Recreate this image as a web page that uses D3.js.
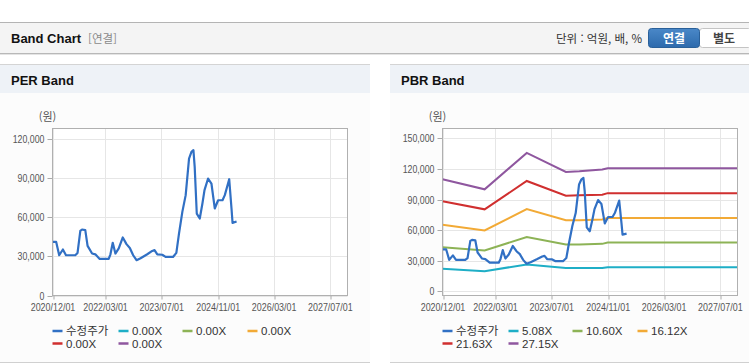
<!DOCTYPE html>
<html lang="ko">
<head>
    <meta charset="UTF-8">
    <title>Band Chart</title>
    <script src="https://d3js.org/d3.v7.min.js"></script>
    <style>
        body, html { margin: 0; background-color: #ffffff; }
        svg { display: block; }
        .axis-label { font-family: 'Liberation Sans', Arial, sans-serif; font-size: 11px; fill: #555; }
        .legend-text { font-family: 'Liberation Sans', 'Noto Sans CJK KR', sans-serif; font-size: 11.5px; fill: #333; }
        .title { font-family: 'Liberation Sans', 'Noto Sans CJK KR', sans-serif; font-weight: bold; font-size: 13px; fill: #111; }
    </style>
</head>
<body>
    <svg width="749" height="364"></svg>
    <script>
        const parse = d3.timeParse("%Y-%m-%d");

        // 수정주가 (adjusted price)
        const priceDates = ["2020-12-01","2021-01-02","2021-01-28","2021-03-01","2021-03-28","2021-06-16","2021-07-06",
            "2021-07-30","2021-08-14","2021-09-11","2021-10-01","2021-11-09","2021-12-07","2022-01-14","2022-04-02",
            "2022-04-17","2022-05-07","2022-05-30","2022-06-28","2022-08-02","2022-09-03","2022-10-02","2022-10-31",
            "2022-11-29","2023-01-03","2023-03-02","2023-04-14","2023-05-04","2023-05-28","2023-07-10","2023-08-08",
            "2023-10-11","2023-11-09","2023-12-02","2023-12-31","2024-01-29","2024-02-27","2024-03-19","2024-04-05",
            "2024-04-16","2024-05-04","2024-05-30","2024-06-22","2024-07-10","2024-08-10","2024-09-08","2024-10-07",
            "2024-11-05","2024-12-13","2025-01-02","2025-02-09","2025-03-01","2025-03-10","2025-04-14"];
        const priceValues = [41000,41000,30800,35200,30800,30800,32600,
            49400,50500,50000,38000,32100,31500,28000,28000,
            31500,40300,32100,36000,44400,39300,36400,30800,
            27000,28500,31600,34100,34700,31400,31200,29500,
            29500,32600,47400,64000,76800,104800,109900,111200,
            98400,62700,58900,70400,80600,89500,85700,66600,
            72900,72900,76800,89000,66600,55600,56600];

        // PBR band lines
        const bandDates = ["2020-12-01","2021-12-01","2022-12-01","2023-11-05","2024-03-01","2024-09-15","2024-11-01","2027-12-01"];
        const pbr508  = [22000, 19700, 26300, 22700, 22700, 22800, 23600, 23600];
        const pbr1060 = [43300, 40100, 53200, 46000, 46000, 46500, 47900, 47900];
        const pbr1612 = [65300, 59700, 80700, 69800, 69600, 70400, 71900, 71900];
        const pbr2163 = [88300, 80400, 108300, 93700, 94200, 94800, 96300, 96300];
        const pbr2715 = [110000, 100100, 135800, 117100, 117800, 119500, 120700, 120700];

        const perLegend = ["수정주가", "0.00X", "0.00X", "0.00X", "0.00X", "0.00X"];
        const pbrLegend = ["수정주가", "5.08X", "10.60X", "16.12X", "21.63X", "27.15X"];
        const seriesColors = ["#3170c4", "#1eaec6", "#8db356", "#f2aa36", "#d02f2f", "#8f579f"];

        const xTicks = ["2020-12-01","2022-03-01","2023-07-01","2024-11-01","2026-03-01","2027-07-01"];
        const xDomain = ["2020-12-01", "2027-12-01"];
        const perTicks = [0, 30000, 60000, 90000, 120000];
        const pbrTicks = [0, 30000, 60000, 90000, 120000, 150000];

        const svg = d3.select("svg");
        const fmtDate = d3.timeFormat("%Y/%m/%d");
        const fmtNum = d3.format(",");

        // squeeze axis labels to mimic the narrow font of the original
        function narrow(sel, k) {
            sel.each(function () {
                const len = this.getComputedTextLength();
                d3.select(this).attr("textLength", len * k).attr("lengthAdjust", "spacingAndGlyphs");
            });
        }

        // top header bar
        svg.append("rect").attr("x", 0).attr("y", 22).attr("width", 749).attr("height", 31).attr("fill", "#f4f4f4");
        svg.append("line").attr("x1", 0).attr("x2", 749).attr("y1", 22.5).attr("y2", 22.5).attr("stroke", "#b4b4b4");
        svg.append("line").attr("x1", 0).attr("x2", 749).attr("y1", 53.5).attr("y2", 53.5).attr("stroke", "#b8b8b8");
        svg.append("line").attr("x1", 0).attr("x2", 749).attr("y1", 54.5).attr("y2", 54.5).attr("stroke", "#e4e4e4");
        svg.append("text").attr("class", "title").attr("x", 11).attr("y", 43).text("Band Chart");
        svg.append("text").attr("x", 88).attr("y", 43)
            .style("font-family", "'Noto Sans CJK KR', sans-serif").style("font-size", "11.5px").attr("fill", "#8a8a8a")
            .text("[연결]");
        svg.append("text").attr("x", 642).attr("y", 43).attr("text-anchor", "end")
            .style("font-family", "'Noto Sans CJK KR', sans-serif").style("font-size", "11.5px").attr("fill", "#333")
            .text("단위 : 억원, 배, %");

        const grad = svg.append("defs").append("linearGradient").attr("id", "btn").attr("x1", 0).attr("x2", 0).attr("y1", 0).attr("y2", 1);
        grad.append("stop").attr("offset", "0%").attr("stop-color", "#4a88c8");
        grad.append("stop").attr("offset", "100%").attr("stop-color", "#2d6aac");
        svg.append("rect").attr("x", 699.5).attr("y", 28.5).attr("width", 52).attr("height", 19).attr("rx", 3)
            .attr("fill", "#fff").attr("stroke", "#c4c4c4");
        svg.append("rect").attr("x", 648.5).attr("y", 28.5).attr("width", 51).attr("height", 19).attr("rx", 3)
            .attr("fill", "url(#btn)").attr("stroke", "#2a6099");
        svg.append("text").attr("x", 674).attr("y", 42.5).attr("text-anchor", "middle")
            .style("font-family", "'Noto Sans CJK KR', sans-serif").style("font-size", "12px").style("font-weight", "bold")
            .attr("fill", "#fff").text("연결");
        svg.append("text").attr("x", 724).attr("y", 42.5).attr("text-anchor", "middle")
            .style("font-family", "'Noto Sans CJK KR', sans-serif").style("font-size", "12px").style("font-weight", "bold")
            .attr("fill", "#444").text("별도");

        function drawPanel(cfg) {
            const g = svg.append("g");
            // panel background + header
            g.append("rect").attr("x", cfg.px).attr("y", 64).attr("width", cfg.pw).attr("height", 299).attr("fill", "#fcfcfc");
            g.append("rect").attr("x", cfg.px).attr("y", 64).attr("width", cfg.pw).attr("height", 29).attr("fill", "#eef2f7");
            g.append("line").attr("x1", cfg.px).attr("x2", cfg.px + cfg.pw).attr("y1", 64.5).attr("y2", 64.5).attr("stroke", "#d4d4d4");
            g.append("line").attr("x1", cfg.px).attr("x2", cfg.px + cfg.pw).attr("y1", 362.5).attr("y2", 362.5).attr("stroke", "#d0d0d0");
            g.append("text").attr("class", "title").attr("x", cfg.px + 11).attr("y", 84.5).text(cfg.title);

            const x = d3.scaleTime().domain(xDomain.map(parse)).range([cfg.left, cfg.left + 295]);
            const y = d3.scaleLinear().domain(cfg.yDomain).range([295.5, 128.5]);

            g.append("rect").attr("x", cfg.left).attr("y", 128.5).attr("width", 295).attr("height", 167).attr("fill", "#fff");

            // grid
            g.selectAll(".hgrid").data(cfg.yTicks).enter().append("line")
                .attr("x1", cfg.left).attr("x2", cfg.left + 295)
                .attr("y1", d => Math.round(y(d)) + 0.5).attr("y2", d => Math.round(y(d)) + 0.5)
                .attr("stroke", "#e6e6e6");
            g.selectAll(".vgrid").data(xTicks).enter().append("line")
                .attr("x1", d => Math.round(x(parse(d))) + 0.5).attr("x2", d => Math.round(x(parse(d))) + 0.5)
                .attr("y1", 128.5).attr("y2", 295.5)
                .attr("stroke", "#e6e6e6");

            // axes
            g.append("g").attr("transform", `translate(0,295.5)`)
                .call(d3.axisBottom(x).tickValues(xTicks.map(parse)).tickFormat(fmtDate).tickSize(4).tickPadding(4))
                .call(a => a.select(".domain").remove())
                .call(a => a.selectAll("line").attr("stroke", "#aaa").attr("transform", d => `translate(${Math.round(x(d)) + 0.5 - x(d)},0)`))
                .call(a => a.selectAll("text").attr("class", "axis-label").attr("fill", null).call(narrow, 0.81));
            g.append("g").attr("transform", `translate(${cfg.left},0)`)
                .call(d3.axisLeft(y).tickValues(cfg.yTicks).tickFormat(fmtNum).tickSize(5).tickPadding(3))
                .call(a => a.select(".domain").remove())
                .call(a => a.selectAll(".tick").attr("transform", d => `translate(0,${Math.round(y(d)) + 0.5})`))
                .call(a => a.selectAll("line").attr("stroke", "#aaa"))
                .call(a => a.selectAll("text").attr("class", "axis-label").attr("fill", null).call(narrow, 0.8));

            g.append("text").attr("x", cfg.left - 5).attr("y", 121).attr("text-anchor", "middle")
                .style("font-family", "'Noto Sans CJK KR', sans-serif").style("font-size", "11px").attr("fill", "#555")
                .text("(원)");

            const clipId = "clip" + cfg.left;
            g.append("clipPath").attr("id", clipId).append("rect")
                .attr("x", cfg.left).attr("y", 128.5).attr("width", 295).attr("height", 167);
            const plot = g.append("g").attr("clip-path", `url(#${clipId})`);

            const line = d3.line().x(d => x(d[0])).y(d => y(d[1]));
            cfg.bands.forEach((vals, i) => {
                if (!vals) return;
                plot.append("path")
                    .datum(bandDates.map((d, j) => [parse(d), vals[j]]))
                    .attr("d", line).attr("fill", "none")
                    .attr("stroke", seriesColors[i + 1]).attr("stroke-width", 2);
            });
            plot.append("path")
                .datum(priceDates.map((d, j) => [parse(d), priceValues[j]]))
                .attr("d", line).attr("fill", "none")
                .attr("stroke", seriesColors[0]).attr("stroke-width", 2.2).attr("stroke-linejoin", "round");

            g.append("rect").attr("x", cfg.left).attr("y", 128.5).attr("width", 295).attr("height", 167)
                .attr("fill", "none").attr("stroke", "#b0b0b0");

            // legend
            const colX = [0, 66, 130, 195];
            const lg = g.selectAll(".legend").data(cfg.legend).enter().append("g")
                .attr("transform", (d, i) => `translate(${cfg.left + colX[i % 4]},${i < 4 ? 331 : 343.5})`);
            lg.append("line").attr("x1", 0).attr("x2", 10).attr("y1", 0).attr("y2", 0)
                .attr("stroke", (d, i) => seriesColors[i]).attr("stroke-width", 2.5);
            lg.append("text").attr("class", "legend-text").attr("x", 13.5).attr("y", 4.2).text(d => d);
        }

        drawPanel({ px: 0, pw: 370, left: 52.5, title: "PER Band", yDomain: [0, 127800], yTicks: perTicks,
            bands: [null, null, null, null, null], legend: perLegend });
        drawPanel({ px: 390, pw: 359, left: 442.5, title: "PBR Band", yDomain: [-4200, 159800], yTicks: pbrTicks,
            bands: [pbr508, pbr1060, pbr1612, pbr2163, pbr2715], legend: pbrLegend });
    </script>
</body>
</html>
